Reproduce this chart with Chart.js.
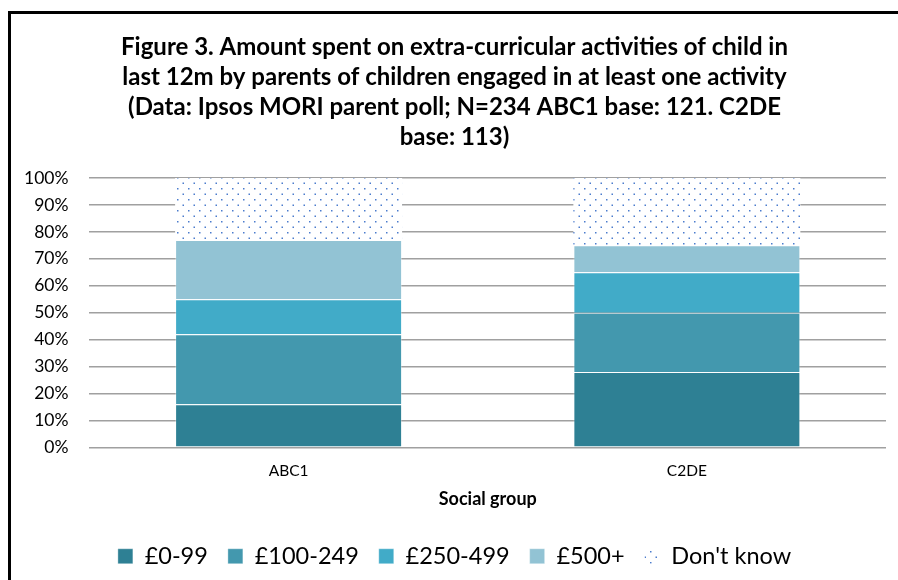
<!DOCTYPE html>
<html>
<head>
<meta charset="utf-8">
<script src="https://cdn.jsdelivr.net/npm/chart.js@4.4.1/dist/chart.umd.min.js"></script>
<style>
  html, body { margin: 0; padding: 0; background: #fff; }
  #wrap { position: relative; width: 898px; height: 580px; overflow: hidden; }
  #frame { position: absolute; left: 8px; top: 11px; width: 960px; height: 640px; border: 3px solid #000; box-sizing: border-box; }
  canvas { position: absolute; left: 0; top: 0; }
</style>
</head>
<body>
<div id="wrap">
  <div id="frame"></div>
  <canvas id="c" width="898" height="580"></canvas>
</div>
<script>
const categories = ['ABC1', 'C2DE'];
const seriesNames = ['£0-99', '£100-249', '£250-499', '£500+', "Don't know"];
const spend0to99 = [16, 28];
const spend100to249 = [26, 22];
const spend250to499 = [13, 15];
const spend500plus = [22, 10];
const dontKnow = [23, 25];
const yTicks = [0, 10, 20, 30, 40, 50, 60, 70, 80, 90, 100];
const titleLines = [
  'Figure 3. Amount spent on extra-curricular activities of child in',
  'last 12m by parents of children engaged in at least one activity',
  '(Data: Ipsos MORI parent poll; N=234 ABC1 base: 121. C2DE',
  'base: 113)'
];
const xTitle = 'Social group';

function dotPattern() {
  const t = document.createElement('canvas');
  t.width = 11; t.height = 11;
  const g = t.getContext('2d');
  g.fillStyle = '#ffffff';
  g.fillRect(0, 0, 11, 11);
  g.fillStyle = 'rgba(55,110,200,0.9)';
  g.fillRect(1, 1, 1.5, 1.5);
  g.fillRect(6.5, 6.5, 1.5, 1.5);
  return document.getElementById('c').getContext('2d').createPattern(t, 'repeat');
}
const pat = dotPattern();

const colors = ['#2e8094', '#4398ae', '#41abc8', '#92c3d4', pat];
const values = [spend0to99, spend100to249, spend250to499, spend500plus, dontKnow];

const datasets = seriesNames.map((n, i) => ({
  label: n,
  data: values[i],
  backgroundColor: colors[i],
  borderColor: i === 4 ? 'rgba(0,0,0,0)' : 'rgba(255,255,255,0.35)',
  borderWidth: i === 4 ? 0 : 1,
  barPercentage: 0.57,
  categoryPercentage: 1.0
}));

Chart.defaults.font.family = 'Lato, "Open Sans", sans-serif';
Chart.defaults.color = '#000';

new Chart(document.getElementById('c'), {
  type: 'bar',
  data: { labels: categories, datasets: datasets },
  options: {
    responsive: false,
    animation: false,
    devicePixelRatio: 1,
    layout: { padding: { top: 22, left: 3, right: -8, bottom: 2 } },
    plugins: {
      title: {
        display: true,
        text: titleLines,
        font: { size: 24, weight: 'bold', lineHeight: 1.25 },
        color: '#000',
        padding: { top: 10, bottom: 26 }
      },
      legend: {
        position: 'bottom',
        labels: {
          boxWidth: 15,
          boxHeight: 15,
          padding: 20,
          font: { size: 23.5 },
          color: '#000'
        }
      },
      tooltip: { enabled: false }
    },
    scales: {
      x: {
        stacked: true,
        grid: { display: false, drawTicks: false },
        border: { display: false },
        ticks: { font: { size: 15.5 }, color: '#000', padding: 14 },
        title: { display: true, text: xTitle, font: { size: 18, weight: 'bold' }, color: '#000', padding: { top: -6, bottom: 15 } }
      },
      y: {
        stacked: true,
        min: 0,
        max: 100,
        afterBuildTicks: (ax) => { ax.ticks = yTicks.map(v => ({ value: v })); },
        grid: { color: '#a0a0a0', lineWidth: 1.5, drawTicks: false },
        border: { display: false },
        ticks: { font: { size: 17.5 }, color: '#000', padding: 21, callback: (v) => v + '%' }
      },
      yRight: {
        position: 'right',
        min: 0,
        max: 100,
        grid: { display: false, drawTicks: false },
        border: { display: false },
        ticks: { display: false },
        afterFit: (s) => { s.width = 20; }
      }
    }
  }
});
</script>
</body>
</html>
